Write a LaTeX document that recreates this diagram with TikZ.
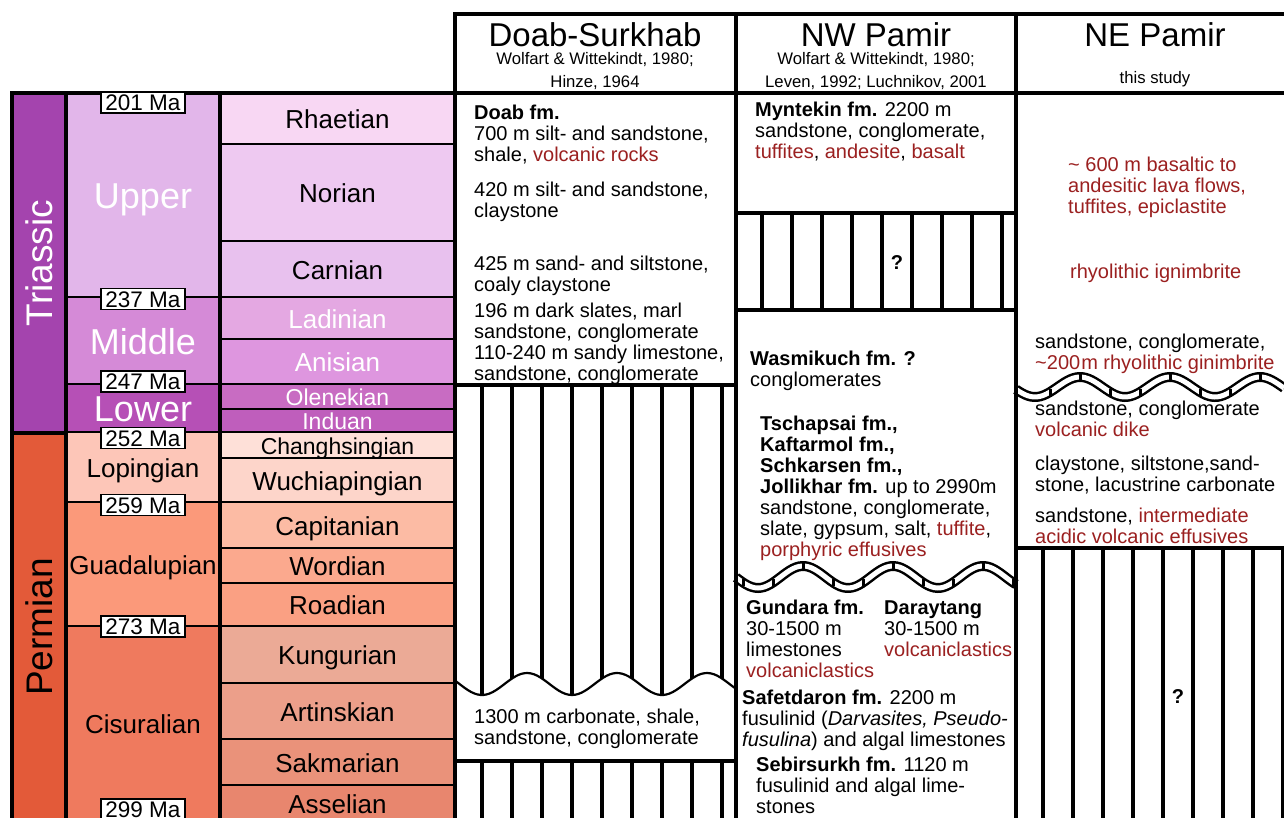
\documentclass[tikz,border=0pt]{standalone}
\usepackage{fontspec}
\setmainfont{Liberation Sans}
\usetikzlibrary{positioning}
\definecolor{triassic}{RGB}{164,68,174}
\definecolor{permian}{RGB}{227,90,57}
\definecolor{upperT}{RGB}{226,182,234}
\definecolor{middleT}{RGB}{213,138,215}
\definecolor{lowerT}{RGB}{182,80,182}
\definecolor{rhaetian}{RGB}{248,215,243}
\definecolor{norian}{RGB}{238,201,241}
\definecolor{carnian}{RGB}{232,193,238}
\definecolor{ladinian}{RGB}{228,168,226}
\definecolor{anisian}{RGB}{222,150,223}
\definecolor{olenekian}{RGB}{200,108,194}
\definecolor{induan}{RGB}{191,94,188}
\definecolor{lopingian}{RGB}{253,198,184}
\definecolor{changhsingian}{RGB}{254,224,216}
\definecolor{wuchiapingian}{RGB}{253,213,202}
\definecolor{guadalupian}{RGB}{251,153,122}
\definecolor{capitanian}{RGB}{252,187,164}
\definecolor{wordian}{RGB}{251,169,142}
\definecolor{roadian}{RGB}{250,160,131}
\definecolor{cisuralian}{RGB}{239,122,94}
\definecolor{kungurian}{RGB}{235,170,150}
\definecolor{artinskian}{RGB}{236,159,138}
\definecolor{sakmarian}{RGB}{234,146,122}
\definecolor{asselian}{RGB}{232,134,110}
\definecolor{volcred}{RGB}{155,32,32}
\newcommand{\bodyfont}{\fontsize{20}{21}\selectfont}
\newcommand{\mafont}{\fontsize{22.5}{24}\selectfont}
\newcommand{\headfont}{\fontsize{33}{36}\selectfont}
\newcommand{\subfont}{\fontsize{16.7}{20}\selectfont}
\newcommand{\vr}[1]{\textcolor{volcred}{#1}}
\newcommand{\nwwave}{577-11*cos(4*(\x-803))}
\newcommand{\newave}{387-10*cos(4*(\x-1080))}
\newcommand{\doabwave}{684+11*cos(4*(\x-482))}

\begin{document}
\begin{tikzpicture}[x=1pt, y=-1pt,
  border/.style={line width=3.5pt, line cap=rect},
  hatchline/.style={line width=3.5pt},
  stage/.style={inner sep=0pt, text depth=0pt},
  descr/.style={anchor=base west, align=left, inner sep=0pt, font=\bodyfont},
  mabox/.style={draw, fill=white, line width=1.2pt, minimum width=84pt, minimum height=21pt,
    inner sep=0pt, text height=16.2pt, text depth=0pt, font=\mafont},
  head/.style={anchor=base, inner sep=0pt, font=\headfont},
  subhead/.style={anchor=base, inner sep=0pt, font=\subfont}]

\useasboundingbox (0,0) rectangle (1284,818);
\fill[white] (0,0) rectangle (1284,818);

% === time scale ===
\fill[triassic] (12,93) rectangle (66,433);
\fill[permian] (12,433) rectangle (66,822);
\node[stage, rotate=90, text=white, text height=26.6pt, font=\fontsize{37}{37}\selectfont] (triassic) at (39,263) {Triassic};
\node[stage, rotate=90, text height=26.6pt, font=\fontsize{37}{37}\selectfont] (permian) at (39,627) {Permian};

% series
\foreach \ya/\yb/\col/\name/\tcol/\sz in {
  93/298/upperT/Upper/white/36, 298/385/middleT/Middle/white/36, 385/433/lowerT/Lower/white/36,
  433/503/lopingian/Lopingian/black/26, 503/627/guadalupian/Guadalupian/black/26,
  627/822/cisuralian/Cisuralian/black/26}
{
  \pgfmathsetmacro{\th}{0.716*\sz}
  \fill[\col] (66,\ya) rectangle (220,\yb);
  \node[stage, text=\tcol, text height=\th pt, font=\fontsize{\sz}{\sz}\selectfont] (\col) at (143,{(\ya+\yb)/2}) {\name};
  \draw[border] (66,\yb) -- (220,\yb);
}

% stages
\foreach \ya/\yb/\col/\name/\tcol/\sz in {
  93/145/rhaetian/Rhaetian/black/26, 145/242/norian/Norian/black/26,
  242/298/carnian/Carnian/black/26, 298/340/ladinian/Ladinian/white/26,
  340/385/anisian/Anisian/white/26, 385/410/olenekian/Olenekian/white/23,
  410/433/induan/Induan/white/23, 433/459/changhsingian/Changhsingian/black/23,
  459/503/wuchiapingian/Wuchiapingian/black/26, 503/549/capitanian/Capitanian/black/26,
  549/584/wordian/Wordian/black/26, 584/627/roadian/Roadian/black/26,
  627/684/kungurian/Kungurian/black/26, 684/740/artinskian/Artinskian/black/26,
  740/786/sakmarian/Sakmarian/black/26, 786/822/asselian/Asselian/black/26}
{
  \pgfmathsetmacro{\th}{0.716*\sz}
  \fill[\col] (220,\ya) rectangle (455,\yb);
  \node[stage, text=\tcol, text height=\th pt, font=\fontsize{\sz}{\sz}\selectfont] (\col) at (337.5,{(\ya+\yb)/2}) {\name};
  \draw[border] (220,\yb) -- (455,\yb);
}
\draw[border] (12,433) -- (66,433);

% === hatched gaps ===
\foreach \x in {482,512,...,722} {
  \draw[hatchline] (\x,385) -- (\x,705);
  \draw[hatchline] (\x,761) -- (\x,818);
}
\foreach \x in {762,792,...,1002}
  \draw[hatchline] (\x,213) -- (\x,310);
\foreach \x in {1043,1073,...,1283}
  \draw[hatchline] (\x,548) -- (\x,818);
\node[font=\bodyfont\bfseries, inner sep=0pt] (qnw) at (897,263) {?};
\node[font=\bodyfont\bfseries, inner sep=0pt] (qne) at (1178,697) {?};

% Doab erosion surface
\fill[white] plot[domain=455:736, samples=90, smooth] (\x,{\doabwave}) -- (736,761) -- (455,761) -- cycle;
\draw[line width=2.2pt] plot[domain=455:736, samples=90, smooth] (\x,{\doabwave});

% unconformities
\draw[line width=10pt] plot[domain=736:1016, samples=90, smooth] (\x,{\nwwave});
\draw[white, line width=5pt] plot[domain=736:1016, samples=90, smooth] (\x,{\nwwave});
\foreach \x in {743,773,...,1013}
  \draw[line width=3pt] (\x,{\nwwave-3.5}) -- ++(0,7);
\draw[line width=10pt] plot[domain=1016:1284, samples=90, smooth] (\x,{\newave});
\draw[white, line width=5pt] plot[domain=1016:1284, samples=90, smooth] (\x,{\newave});
\foreach \x in {1050,1080,...,1260}
  \draw[line width=3pt] (\x,{\newave-3.5}) -- ++(0,7);

% === frame ===
\draw[border] (12,93) -- (1284,93);
\draw[border] (455,14) -- (1284,14);
\foreach \x in {12,66,220} \draw[border] (\x,93) -- (\x,818);
\foreach \x in {455,736,1016} \draw[border] (\x,14) -- (\x,818);
\draw[border] (455,385) -- (736,385);
\draw[border] (455,761) -- (736,761);
\draw[border] (736,213) -- (1016,213);
\draw[border] (736,310) -- (1016,310);
\draw[border] (1016,548) -- (1284,548);

% === headers ===
\node[head] (hdoab) at (595,47) {Doab-Surkhab};
\node[subhead] (rdoab1) at (595,65) {Wolfart \& Wittekindt, 1980;};
\node[subhead] (rdoab2) at (595,88) {Hinze, 1964};
\node[head] (hnw) at (876,47) {NW Pamir};
\node[subhead] (rnw1) at (876,65) {Wolfart \& Wittekindt, 1980;};
\node[subhead] (rnw2) at (876,88) {Leven, 1992; Luchnikov, 2001};
\node[head] (hne) at (1155,47) {NE Pamir};
\node[subhead] (rne) at (1155,84) {this study};

% === Doab-Surkhab ===
\node[descr] (doab) at (474,162) {\textbf{Doab fm.}\\700 m silt- and sandstone,\\shale, \vr{volcanic rocks}};
\node[descr] (norD) at (474,218) {420 m silt- and sandstone,\\claystone};
\node[descr] (carD) at (474,291) {425 m sand- and siltstone,\\coaly claystone};
\node[descr] (midD) at (474,380) {196 m dark slates, marl\\sandstone, conglomerate\\110-240 m sandy limestone,\\sandstone, conglomerate};
\node[descr] (cisD) at (474,744) {1300 m carbonate, shale,\\sandstone, conglomerate};

% === NW Pamir ===
\node[descr] (myntekin) at (755,159) {\textbf{Myntekin fm.} 2200 m\\sandstone, conglomerate,\\\vr{tuffites}, \vr{andesite}, \vr{basalt}};
\node[descr] (wasmikuch) at (750,386) {\textbf{Wasmikuch fm. ?}\\conglomerates};
\node[descr] (tschapsai) at (760,556) {\textbf{Tschapsai fm.,}\\\textbf{Kaftarmol fm.,}\\\textbf{Schkarsen fm.,}\\\textbf{Jollikhar fm.} up to 2990m\\sandstone, conglomerate,\\slate, gypsum, salt, \vr{tuffite},\\\vr{porphyric effusives}};
\node[descr] (gundara) at (746,677) {\textbf{Gundara fm.}\\30-1500 m\\limestones\\\vr{volcaniclastics}};
\node[descr] (daraytang) at (884,656) {\textbf{Daraytang}\\30-1500 m\\\vr{volcaniclastics}};
\node[descr] (safetdaron) at (742,746) {\textbf{Safetdaron fm.} 2200 m\\fusulinid (\textit{Darvasites, Pseudo-}\\\textit{fusulina}) and algal limestones};
\node[descr] (sebirsurkh) at (756,813) {\textbf{Sebirsurkh fm.} 1120 m\\fusulinid and algal lime-\\stones};

% === NE Pamir ===
\node[descr, text=volcred] (lava) at (1068,214) {\textasciitilde{} 600 m basaltic to\\andesitic lava flows,\\tuffites, epiclastite};
\node[descr, text=volcred] (ign) at (1070,278) {rhyolithic ignimbrite};
\node[descr] (ginim) at (1035,369) {sandstone, conglomerate,\\\vr{\textasciitilde200\kern1pt m rhyolithic ginimbrite}};
\node[descr] (dike) at (1035,436) {sandstone, conglomerate\\\vr{volcanic dike}};
\node[descr] (lacus) at (1035,491) {claystone, siltstone,sand-\\stone, lacustrine carbonate};
\node[descr] (effus) at (1035,543) {sandstone, \vr{intermediate}\\\vr{acidic volcanic effusives}};

% === ages ===
\foreach \yy/\ma in {102.5/201, 299/237, 381.5/247, 438/252, 505/259, 626.5/273, 809.5/299}
  \node[mabox] (ma\ma) at (143,\yy) {\ma\ Ma};

\end{tikzpicture}
\end{document}
